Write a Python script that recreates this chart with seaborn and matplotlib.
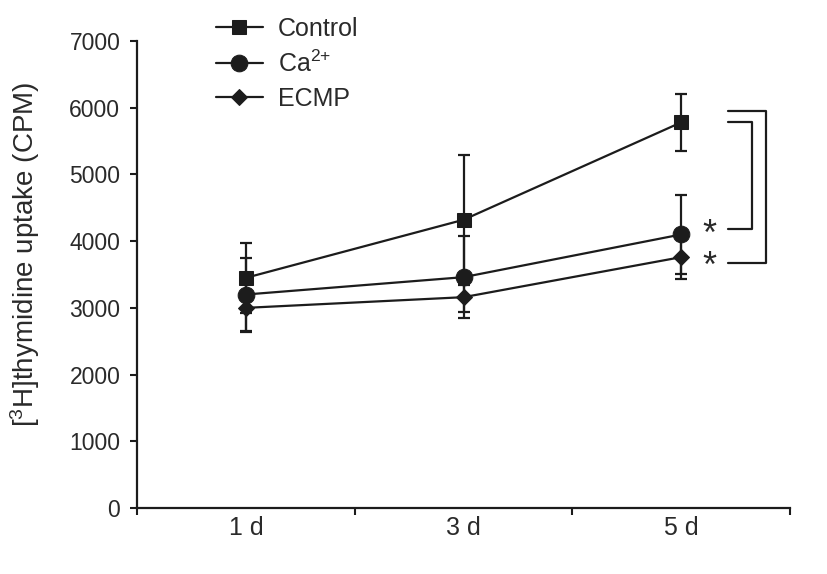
import matplotlib
matplotlib.use("Agg")
import matplotlib.pyplot as plt
import seaborn as sns
import numpy as np
import pandas as pd

days = ["1 d", "3 d", "5 d"]
groups = ["Control", "Ca$^{2{+}}$", "ECMP"]
control = [3450, 4320, 5780]
control_err = [520, 970, 430]
ca = [3200, 3460, 4100]
ca_err = [550, 610, 590]
ecmp = [3000, 3160, 3760]
ecmp_err = [360, 220, 330]
yticks = [0, 1000, 2000, 3000, 4000, 5000, 6000, 7000]

sns.set_theme(style="ticks")
plt.rcParams["font.family"] = ["Liberation Sans", "DejaVu Sans"]
plt.rcParams["mathtext.default"] = "regular"

ink = "#1c1c1c"
txt = "#2a2a2a"

fig = plt.figure(figsize=(8.27, 5.74), dpi=100)
ax = fig.add_axes([137 / 827, 1 - 508 / 574, 653 / 827, 467 / 574])

xpos = np.arange(len(days)) + 0.5
markers = ["s", "o", "D"]
msizes = [9.5, 12, 8.5]
series = [control, ca, ecmp]
errs = [control_err, ca_err, ecmp_err]

for name, vals, err, mk, ms in zip(groups, series, errs, markers, msizes):
    df = pd.DataFrame({"x": xpos, "y": vals})
    sns.lineplot(data=df, x="x", y="y", ax=ax, color=ink, lw=1.6,
                 marker=mk, markersize=ms, markeredgecolor=ink,
                 markerfacecolor=ink, label=name, zorder=3)
    ax.errorbar(xpos, vals, yerr=err, fmt="none", ecolor=ink,
                elinewidth=1.6, capsize=4, capthick=1.6, zorder=2)

ax.set_xlim(0, 3)
ax.set_ylim(0, 7000)
ax.set_yticks(yticks)
ax.set_yticklabels([str(v) for v in yticks], fontsize=16.5, color=txt)
ax.set_xticks([0, 1, 2, 3])
ax.set_xticklabels([])
ax.set_xticks(xpos, minor=True)
ax.set_xticklabels(days, minor=True, fontsize=18, color=txt)
ax.tick_params(axis="x", which="minor", length=0, pad=6)
ax.tick_params(axis="x", which="major", length=5, width=1.5, color=ink)
ax.tick_params(axis="y", length=5, width=1.5, color=ink, pad=7)
ax.set_xlabel("")
ax.set_ylabel("[$^3$H]thymidine uptake (CPM)", fontsize=20, color=txt)
ax.yaxis.set_label_coords(-0.145, 0.543)
for s in ["left", "bottom"]:
    ax.spines[s].set_color(ink)
    ax.spines[s].set_linewidth(1.6)
sns.despine(ax=ax)

# significance brackets
bk = dict(color=ink, lw=1.6, clip_on=False)
ax.plot([2.715, 2.825, 2.825, 2.715], [5786, 5786, 4182, 4182], **bk)
ax.plot([2.715, 2.890, 2.890, 2.715], [5951, 5951, 3673, 3673], **bk)
ax.text(2.628, 4080, "*", fontsize=26, ha="center", va="center", color=txt)
ax.text(2.628, 3600, "*", fontsize=26, ha="center", va="center", color=txt)

h, l = ax.get_legend_handles_labels()
leg = ax.legend(h, l, loc="upper left", bbox_to_anchor=(198 / 827, 1.0 + 1 / 574),
                bbox_transform=fig.transFigure, frameon=False, fontsize=18,
                handlelength=1.9, handletextpad=0.6, labelspacing=0.4,
                borderpad=0.2)
for t in leg.get_texts():
    t.set_color(txt)

fig.savefig("out.png", dpi=100)
